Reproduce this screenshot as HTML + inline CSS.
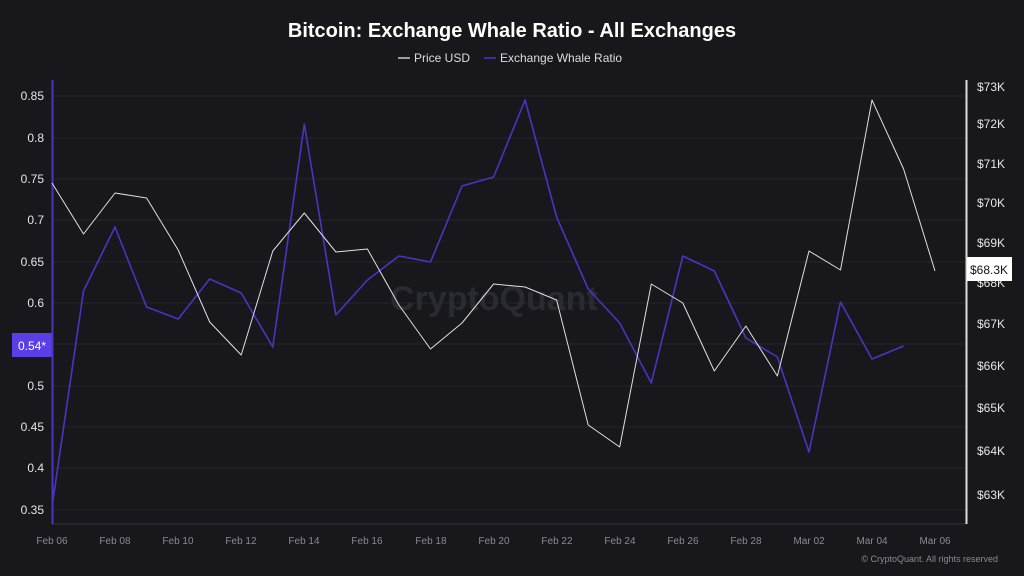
<!DOCTYPE html>
<html><head><meta charset="utf-8"><style>
html,body{margin:0;padding:0;background:#17171c;width:1024px;height:576px;overflow:hidden}
svg{display:block;font-family:"Liberation Sans",sans-serif}
</style></head><body>
<svg width="1024" height="576" viewBox="0 0 1024 576">
<rect width="1024" height="576" fill="#17171c"/>
<text x="512" y="37" fill="#fff" font-size="20" font-weight="bold" text-anchor="middle">Bitcoin: Exchange Whale Ratio - All Exchanges</text>
<line x1="398" y1="58" x2="410" y2="58" stroke="#ccc" stroke-width="1.5"/>
<text x="414" y="62" fill="#ddd" font-size="12">Price USD</text>
<line x1="484" y1="58" x2="496" y2="58" stroke="#4a35c0" stroke-width="1.5"/>
<text x="500" y="62" fill="#ddd" font-size="12">Exchange Whale Ratio</text>
<g stroke="#26262d" stroke-width="1">
<line x1="52" x2="966" y1="96" y2="96"/><line x1="52" x2="966" y1="138" y2="138"/>
<line x1="52" x2="966" y1="179" y2="179"/><line x1="52" x2="966" y1="220" y2="220"/>
<line x1="52" x2="966" y1="262" y2="262"/><line x1="52" x2="966" y1="303" y2="303"/>
<line x1="52" x2="966" y1="344" y2="344"/><line x1="52" x2="966" y1="386" y2="386"/>
<line x1="52" x2="966" y1="427" y2="427"/><line x1="52" x2="966" y1="468" y2="468"/>
<line x1="52" x2="966" y1="510" y2="510"/>
</g>
<line x1="52" x2="966" y1="524" y2="524" stroke="#333340"/>
<text x="390" y="310" fill="#2a2a31" font-size="34" font-weight="bold">CryptoQuant</text>
<g fill="#e6e6e6" font-size="12" text-anchor="end">
<text x="44" y="100">0.85</text><text x="44" y="142">0.8</text><text x="44" y="183">0.75</text>
<text x="44" y="224">0.7</text><text x="44" y="266">0.65</text><text x="44" y="307">0.6</text>
<text x="44" y="390">0.5</text><text x="44" y="431">0.45</text>
<text x="44" y="472">0.4</text><text x="44" y="514">0.35</text>
</g>
<rect x="12" y="333" width="40" height="24" fill="#5a3ee6"/>
<text x="18" y="350" fill="#fff" font-size="12">0.54*</text>
<g fill="#e6e6e6" font-size="12">
<text x="977" y="91">$73K</text><text x="977" y="128">$72K</text><text x="977" y="168">$71K</text>
<text x="977" y="207">$70K</text><text x="977" y="247">$69K</text><text x="977" y="287">$68K</text>
<text x="977" y="328">$67K</text><text x="977" y="370">$66K</text><text x="977" y="412">$65K</text>
<text x="977" y="455">$64K</text><text x="977" y="499">$63K</text>
</g>
<line x1="966.5" y1="80" x2="966.5" y2="524" stroke="#ddd" stroke-width="2"/>
<line x1="52.5" y1="80" x2="52.5" y2="524" stroke="#4a35c0" stroke-width="2"/>
<g fill="#8a8a95" font-size="10" text-anchor="middle">
<text x="52" y="544">Feb 06</text><text x="115" y="544">Feb 08</text><text x="178" y="544">Feb 10</text>
<text x="241" y="544">Feb 12</text><text x="304" y="544">Feb 14</text><text x="367" y="544">Feb 16</text>
<text x="431" y="544">Feb 18</text><text x="494" y="544">Feb 20</text><text x="557" y="544">Feb 22</text>
<text x="620" y="544">Feb 24</text><text x="683" y="544">Feb 26</text><text x="746" y="544">Feb 28</text>
<text x="809" y="544">Mar 02</text><text x="872" y="544">Mar 04</text><text x="935" y="544">Mar 06</text>
</g>
<text x="998" y="562" fill="#8a8a95" font-size="9" text-anchor="end">© CryptoQuant. All rights reserved</text>
<polyline fill="none" stroke="#4a35c0" stroke-width="1.6" stroke-linejoin="round" points="52,507 83.5,291 115,227 146.6,307 178.2,319 209.7,279 241.2,293 272.8,347 304.3,124 335.9,315 367.4,280 398.9,256 430.5,262 462,186 493.6,177 525.1,100 556.6,217 588.2,289 619.7,323 651.3,383 682.8,256 714.3,271 745.9,338 777.4,357 809,452 840.5,302 872,359 903.6,346"/>
<polyline fill="none" stroke="#e0e0e0" stroke-width="1" stroke-linejoin="round" points="52,183 83.5,234 115,193 146.6,198 178.2,250 209.7,322 241.2,355 272.8,251 304.3,213 335.9,252 367.4,249 398.9,305 430.5,349 462,323 493.6,284 525.1,287 556.6,300 588.2,425 619.7,447 651.3,284 682.8,303 714.3,371 745.9,326 777.4,376 809,251 840.5,270 872,100 903.6,169 935,271"/>
<rect x="967" y="257" width="45" height="24" fill="#fff"/>
<text x="970" y="274" fill="#111" font-size="12">$68.3K</text>
</svg>
</body></html>
